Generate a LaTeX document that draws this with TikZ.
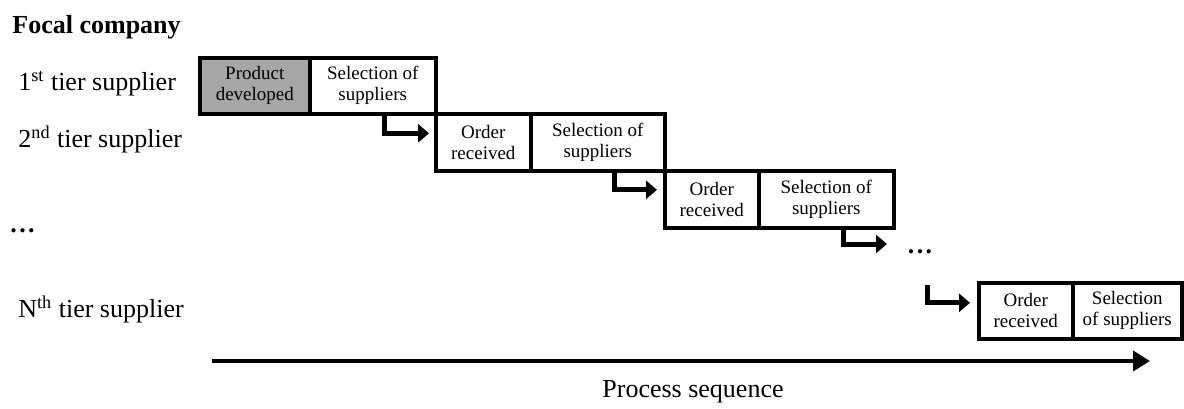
\documentclass[tikz,border=0pt]{standalone}
\usepackage{fontspec}
\setmainfont{Liberation Serif}
\usetikzlibrary{arrows.meta}
\newcommand{\spreaddots}{\textbf{.\hspace{1.2pt}.\hspace{1.2pt}.}}
\begin{document}
\begin{tikzpicture}[x=0.5pt, y=-0.5pt, line join=miter, font=\fontsize{13}{15}\selectfont, >={Triangle[length=5.5pt,width=9pt]}]
			\tikzset{box/.style={draw, line width=1.8pt, anchor=north west, inner sep=0pt, align=center, font=\fontsize{9.5}{10.5}\selectfont},
				flow/.style={->, line width=2.5pt}}
			\useasboundingbox (0,0) rectangle (1184,408);
			\node[anchor=base west, inner sep=0pt, font=\fontsize{13}{15}\selectfont\bfseries] (focal) at (12,33) {Focal company};
			\node[anchor=base west, inner sep=0pt] (tier1) at (18,90) {1\textsuperscript{st} tier supplier};
			\node[anchor=base west, inner sep=0pt] (tier2) at (18,147) {2\textsuperscript{nd} tier supplier};
			\node[anchor=base west, inner sep=0pt, font=\fontsize{13}{15}\selectfont] (tierx) at (10,232) {\spreaddots};
			\node[anchor=base west, inner sep=0pt] (tierN) at (18,317) {N\textsuperscript{th} tier supplier};
			\node[box, fill=black!35, minimum width=55pt, minimum height=28pt] (prod) at (198,56) {Product\\developed};
			\node[box, minimum width=63pt, minimum height=28pt] (sel1) at (308,56) {Selection of\\suppliers};
			\node[box, minimum width=47.5pt, minimum height=28.5pt] (ord2) at (434,112) {Order\\received};
			\node[box, minimum width=67pt, minimum height=28.5pt] (sel2) at (529,112) {Selection of\\suppliers};
			\node[box, minimum width=47pt, minimum height=28.5pt] (ord3) at (663,169) {Order\\received};
			\node[box, minimum width=67.5pt, minimum height=28.5pt] (sel3) at (757,169) {Selection of\\suppliers};
			\node[box, minimum width=47pt, minimum height=28pt] (ordN) at (977,281) {Order\\received};
			\node[box, minimum width=54.5pt, minimum height=28pt] (selN) at (1071,281) {Selection\\of suppliers};
			\node[inner sep=0pt, font=\fontsize{13}{15}\selectfont] (gap) at (920,252) {\spreaddots};
			\coordinate (tip3) at (887,244);
			\coordinate (fromgap) at (927,285);
			\draw[flow] ([xshift=6pt]sel1.south) |- ([xshift=-2.5pt,yshift=4.5pt]ord2.west);
			\draw[flow] ([xshift=8.5pt]sel2.south) |- ([xshift=-3pt,yshift=4.75pt]ord3.west);
			\draw[flow] ([xshift=8.75pt]sel3.south) |- (tip3);
			\draw[flow] (fromgap) |- ([xshift=-3.5pt,yshift=4pt]ordN.west);
			\coordinate (pstart) at (212,361);
			\coordinate (pend) at (1150,361);
			\draw[-{Triangle[length=8.5pt,width=10pt]}, line width=2pt] (pstart) -- (pend);
			\node[anchor=base, inner sep=0pt] (process) at (693,397) {Process sequence};
		\end{tikzpicture}
\end{document}
